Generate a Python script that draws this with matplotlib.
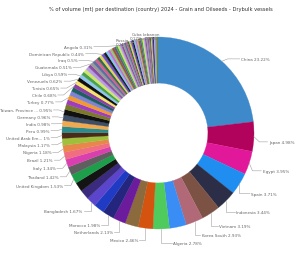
import numpy as np
import matplotlib.pyplot as plt

# Data (sorted largest first, clockwise from top)
title = ("% of volume (mt) per destination (country) 2024 - "
         "Grain and Oilseeds - Drybulk vessels")

# "" = slice whose label is not shown in the chart
countries = (["China", "Japan", "Egypt", "Spain", "Indonesia", "Vietnam",
              "Korea South", "", "Algeria", "Mexico", "", "Netherlands",
              "Morocco", "", "Bangladesh", "", "", "United Kingdom",
              "Thailand", "Italy", "Brazil", "Nigeria", "Malaysia",
              "United Arab Em...", "Peru", "India", "Germany",
              "Taiwan, Province ...", "", "", "Turkey", "", "", "Chile",
              "Tunisia", "Venezuela", "Libya", "", "", "", "", "Guatemala",
              "Iraq", "", "", "", "Dominican Republic"]
             + [""] * 7 + ["Angola"] + [""] * 18 + ["Russia"] + [""] * 4
             + ["Cuba", "", "", "Lebanon"] + [""] * 4)

shares = [23.22, 4.98, 3.95, 3.71, 3.44, 3.19,
          2.93, 2.85, 2.78, 2.46, 2.25, 2.13,
          1.98, 1.80, 1.67, 1.62, 1.57, 1.53,
          1.42, 1.34, 1.21, 1.18, 1.17,
          1.00, 0.99, 0.98, 0.96,
          0.95, 0.88, 0.82, 0.77, 0.74, 0.71, 0.68,
          0.65, 0.62, 0.59, 0.58, 0.57, 0.55, 0.53, 0.51,
          0.50, 0.48, 0.47, 0.46, 0.44,
          0.42, 0.40, 0.39, 0.38, 0.36, 0.34, 0.33,
          0.31,
          0.30, 0.30, 0.29, 0.29, 0.28, 0.28, 0.27, 0.27, 0.26, 0.26,
          0.25, 0.25, 0.24, 0.24, 0.23, 0.23, 0.22, 0.22,
          0.21, 0.20, 0.19, 0.18, 0.18,
          0.17, 0.16, 0.16, 0.15,
          0.12, 0.10, 0.08, 0.06]

# slice colours
main_colors = ["#3e89c9", "#b2035c", "#e2189b", "#1f8ef0", "#2c2e47",
               "#7b5244", "#b26977", "#3a8df4", "#4fca5c", "#d4530f",
               "#8b6a3d", "#6d1b9d", "#24267d", "#1f3bc4", "#5b45cc",
               "#3a2b7e", "#141414", "#1d9e4a", "#5f5f5f", "#d93fae",
               "#f06d84", "#e8864c", "#9fc03a", "#4a2b1a", "#2a8c8c",
               "#f0a94f", "#3c4f66", "#111111", "#7a7a2a", "#a03cc0",
               "#f29a2e", "#7f83d6", "#1f5f5f", "#8a3fa6", "#f6e36a",
               "#0f0f0f", "#8fc6f0"]
cycle = ["#49a24a", "#cfe66e", "#b89be6", "#8b4fa2", "#9a9a9a", "#5a6fa0",
         "#d35f8d", "#2f6e4d", "#e6d25a", "#6a4fd0", "#1c1c1c", "#7ec8ee",
         "#c86bd0", "#93c47d", "#a0522d", "#5c5c8a"]
colors = main_colors + [cycle[i % len(cycle)]
                        for i in range(len(shares) - len(main_colors))]

TEXT_COL = "#666666"
LINE_COL = "#a0a0a0"
FS = 3
GAP = 0.072

fig = plt.figure(figsize=(3.03, 2.55), dpi=100)
ax = fig.add_axes([0, 0, 1, 1])

wedges, _ = ax.pie(shares, colors=colors, startangle=90, counterclock=False,
                   wedgeprops=dict(width=0.48, linewidth=0.2))
for w in wedges:
    w.set_edgecolor(w.get_facecolor())

ax.set_xlim(-158 / 96, 145 / 96)
ax.set_ylim(-121 / 96, 134 / 96)
ax.set_aspect("equal")
ax.axis("off")

# sort the labelled slices into left, right and top groups
left, right, top = [], [], []
for w, name, val in zip(wedges, countries, shares):
    if not name:
        continue
    ang = np.deg2rad((w.theta1 + w.theta2) / 2)
    ca, sa = np.cos(ang), np.sin(ang)
    if sa > 0.98:
        top.append([name, val, ca, sa])
    elif ca >= 0:
        right.append([f"{name} {val:g}%", ca, sa, 1.1 * sa - 0.05])
    else:
        left.append([f"{name} {val:g}%", ca, sa, 1.1 * sa - 0.02])

# right side, from top to bottom
right.sort(key=lambda r: -r[3])
for i in range(1, len(right)):
    right[i][3] = min(right[i][3], right[i - 1][3] - GAP)
for text, ca, sa, y in right:
    ex = max(ca, np.sqrt(max(1.06 ** 2 - y ** 2, 0)))
    tx = max(np.sqrt(max(1.16 ** 2 - y ** 2, 0)), ex + 0.05)
    ax.plot([ca, ex, tx - 0.015], [sa, y, y], color=LINE_COL, lw=0.4)
    ax.text(tx, y, text, ha="left", va="center", fontsize=FS, color=TEXT_COL)

# left side, from bottom to top
left.sort(key=lambda r: r[3])
for i in range(1, len(left)):
    left[i][3] = max(left[i][3], left[i - 1][3] + GAP)
left[-1][3] = min(left[-1][3], 0.9)
for i in range(len(left) - 2, -1, -1):
    left[i][3] = min(left[i][3], left[i + 1][3] - GAP)
for text, ca, sa, y in left:
    ex = min(ca, -np.sqrt(max(1.06 ** 2 - y ** 2, 0)))
    tx = min(-np.sqrt(max(1.13 ** 2 - y ** 2, 0)), ex - 0.05)
    ax.plot([ca, ex, tx + 0.015], [sa, y, y], color=LINE_COL, lw=0.4)
    ax.text(tx, y, text, ha="right", va="center", fontsize=FS,
            color=TEXT_COL)

# tiny slices at the top get two-line labels above the ring
top.sort(key=lambda r: -r[2])
x0 = top[0][2] - 0.04
top_y = [0.97, 0.97, 0.91]
for k, (name, val, ca, sa) in enumerate(top):
    tx = x0 - k * 0.155
    ty = top_y[k % len(top_y)]
    ax.plot([ca, tx], [sa, ty - 0.01], color=LINE_COL, lw=0.4)
    ax.text(tx, ty, f"{name}\n{val:g}%", ha="center", va="bottom",
            fontsize=FS, color=TEXT_COL, linespacing=1.0)

fig.text(0.532, 0.962, title, ha="center", va="center", fontsize=3.7,
         color="#333333")

plt.savefig("out.png", dpi=100)
